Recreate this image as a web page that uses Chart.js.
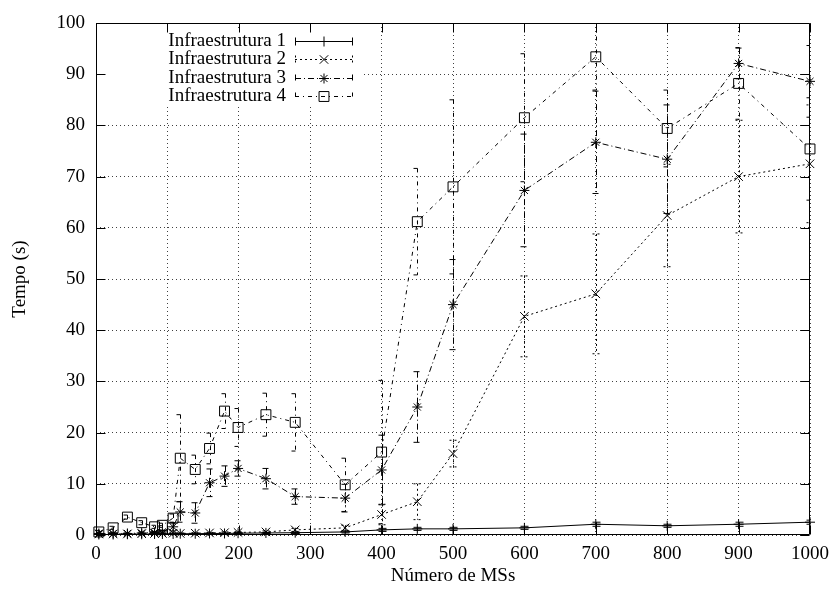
<!DOCTYPE html>
<html>
<head>
<meta charset="utf-8">
<title>Tempo x Número de MSs</title>
<script src="https://cdn.jsdelivr.net/npm/chart.js@4.4.1/dist/chart.umd.min.js"></script>
<style>
    html, body { margin: 0; padding: 0; background: #fff; }
    #wrap { width: 837px; height: 590px; }
</style>
</head>
<body>
<div id="wrap"><canvas id="tempoChart" width="837" height="590"></canvas></div>
<script>
// número de MSs (eixo x)
const msCount = [4, 24, 44, 64, 82, 93, 108, 118, 139, 159, 180, 199, 238, 279, 349, 400, 450, 500, 600, 700, 800, 900, 1000];

// tempo médio (s) e desvio de cada infraestrutura
const infra1 = [0.1, 0.1, 0.15, 0.15, 0.2, 0.2, 0.2, 0.25, 0.25, 0.3, 0.3, 0.35, 0.4, 0.45, 0.6, 1.0, 1.2, 1.2, 1.4, 2.1, 1.8, 2.1, 2.5];
const infra1Err = [0.05, 0.05, 0.05, 0.05, 0.05, 0.05, 0.05, 0.1, 0.1, 0.1, 0.1, 0.1, 0.1, 0.15, 0.2, 0.3, 0.3, 0.3, 0.3, 0.4, 0.3, 0.4, 0.4];

const infra2 = [0.2, 0.2, 0.2, 0.25, 0.3, 0.3, 0.35, 0.3, 0.35, 0.4, 0.45, 0.5, 0.6, 1.0, 1.4, 4.0, 6.5, 15.9, 42.7, 47.1, 62.4, 70.0, 72.5];
const infra2Err = [0.05, 0.05, 0.05, 0.05, 0.1, 0.1, 0.1, 0.1, 0.1, 0.1, 0.15, 0.15, 0.2, 0.3, 0.5, 2.0, 3.5, 2.6, 7.9, 11.7, 10.0, 11.0, 11.5];

const infra3 = [0.3, 0.3, 0.3, 0.4, 0.5, 0.6, 1.6, 4.5, 4.3, 10.2, 11.5, 13.0, 11.0, 7.5, 7.2, 12.7, 25.0, 45.0, 67.3, 76.7, 73.4, 92.1, 88.6];
const infra3Err = [0.1, 0.1, 0.1, 0.2, 0.2, 0.3, 0.8, 2.0, 2.0, 2.7, 2.0, 1.5, 2.0, 1.5, 2.7, 6.8, 6.9, 8.8, 11.0, 10.0, 10.6, 3.0, 7.0];

const infra4 = [0.6, 1.4, 3.5, 2.4, 1.6, 1.9, 3.3, 15.0, 12.8, 16.9, 24.2, 21.0, 23.5, 22.0, 9.8, 16.2, 61.2, 68.0, 81.5, 93.4, 79.4, 88.2, 75.4];
const infra4Err = [0.3, 0.3, 0.4, 0.4, 0.3, 0.4, 0.8, 8.5, 2.8, 3.0, 3.4, 3.7, 4.2, 5.6, 5.2, 14.0, 10.4, 17.0, 12.5, 6.5, 7.5, 7.0, 10.0];

const seriesNames = ["Infraestrutura 1", "Infraestrutura 2", "Infraestrutura 3", "Infraestrutura 4"];
const xTitle = "Número de MSs";
const yTitle = "Tempo (s)";

const FONT = "'Liberation Serif', 'Times New Roman', serif";

function toPoints(ys){
    return msCount.map((x, i) => ({ x: x, y: ys[i] }));
}

function makeSet(label, ys, errs, dash, style, radius){
    return {
        label: label,
        data: toPoints(ys),
        errors: errs,
        borderColor: "#000",
        borderWidth: 1,
        borderDash: dash,
        pointStyle: style,
        pointRadius: radius,
        pointBorderColor: "#000",
        pointBackgroundColor: "rgba(0,0,0,0)",
        pointBorderWidth: 1,
        tension: 0,
        fill: false,
        clip: false
    };
}

const datasets = [
    makeSet(seriesNames[0], infra1, infra1Err, [], "cross", 5),
    makeSet(seriesNames[1], infra2, infra2Err, [2, 3], "crossRot", 6),
    makeSet(seriesNames[2], infra3, infra3Err, [6, 3, 1, 3], "star", 5),
    makeSet(seriesNames[3], infra4, infra4Err, [4, 4, 1, 4], "rect", 7)
];

function markPoint(ctx, style, radius, x, y){
    ctx.save();
    ctx.setLineDash([]);
    ctx.fillStyle = "rgba(0,0,0,0)";
    ctx.strokeStyle = "#000";
    ctx.lineWidth = 1;
    Chart.helpers.drawPoint(ctx, { pointStyle: style, radius: radius, rotation: 0, borderWidth: 1 }, x, y);
    ctx.restore();
}

// barras de erro desenhadas pelas escalas do gráfico
const errorBars = {
    id: "errorBars",
    afterDatasetsDraw(chart){
        const ctx = chart.ctx, a = chart.chartArea;
        const xs = chart.scales.x, ys = chart.scales.y;
        ctx.save();
        ctx.beginPath();
        ctx.rect(a.left, a.top, a.right - a.left, a.bottom - a.top);
        ctx.clip();
        ctx.strokeStyle = "#000";
        ctx.lineWidth = 1;
        chart.data.datasets.forEach(ds => {
            ctx.setLineDash(ds.borderDash);
            ds.data.forEach((p, i) => {
                const e = ds.errors[i];
                if(!e) return;
                const px = Math.round(xs.getPixelForValue(p.x)) + 0.5;
                const top = ys.getPixelForValue(p.y + e);
                const bot = ys.getPixelForValue(p.y - e);
                ctx.beginPath();
                ctx.moveTo(px, top); ctx.lineTo(px, bot);
                ctx.moveTo(px - 4, top); ctx.lineTo(px + 4, top);
                ctx.moveTo(px - 4, bot); ctx.lineTo(px + 4, bot);
                ctx.stroke();
            });
        });
        ctx.restore();
    }
};

// moldura e marcas internas no estilo gnuplot
const frameTicks = {
    id: "frameTicks",
    afterDatasetsDraw(chart){
        const ctx = chart.ctx, a = chart.chartArea;
        const xs = chart.scales.x, ys = chart.scales.y;
        ctx.save();
        ctx.strokeStyle = "#000";
        ctx.lineWidth = 1;
        ctx.setLineDash([]);
        ctx.beginPath();
        const L = Math.round(a.left) + 0.5, R = Math.round(a.right) - 0.5;
        const T = Math.round(a.top) + 0.5, B = Math.round(a.bottom) - 0.5;
        ctx.rect(L, T, R - L, B - T);
        xs.ticks.forEach(t => {
            const px = Math.round(xs.getPixelForValue(t.value)) + 0.5;
            ctx.moveTo(px, B); ctx.lineTo(px, B - 9);
            ctx.moveTo(px, T); ctx.lineTo(px, T + 9);
        });
        ys.ticks.forEach(t => {
            const py = Math.round(ys.getPixelForValue(t.value)) + 0.5;
            ctx.moveTo(L, py); ctx.lineTo(L + 9, py);
            ctx.moveTo(R, py); ctx.lineTo(R - 9, py);
        });
        ctx.stroke();
        ctx.restore();
    }
};

// legenda: texto à esquerda, amostra de linha à direita
const keyBox = {
    id: "keyBox",
    beforeDatasetsDraw(chart){
        const ctx = chart.ctx, a = chart.chartArea;
        ctx.save();
        ctx.fillStyle = "#fff";
        ctx.fillRect(a.left + 10, a.top + 5, 256, 76);
        ctx.restore();
    },
    afterDraw(chart){
        const ctx = chart.ctx, a = chart.chartArea;
        const textRight = a.left + 190;
        const x0 = a.left + 199, x1 = a.left + 257;
        ctx.save();
        ctx.font = "19px " + FONT;
        ctx.fillStyle = "#000";
        ctx.textAlign = "right";
        ctx.textBaseline = "middle";
        chart.data.datasets.forEach((ds, i) => {
            const y = a.top + 18 + i * 18.3;
            ctx.fillText(ds.label, textRight, y);
            const py = Math.round(y) + 0.5;
            ctx.strokeStyle = "#000";
            ctx.lineWidth = 1;
            ctx.setLineDash(ds.borderDash);
            ctx.beginPath();
            ctx.moveTo(x0, py); ctx.lineTo(x1, py);
            ctx.moveTo(x0 + 0.5, py - 4); ctx.lineTo(x0 + 0.5, py + 4);
            ctx.moveTo(x1 - 0.5, py - 4); ctx.lineTo(x1 - 0.5, py + 4);
            ctx.stroke();
            markPoint(ctx, ds.pointStyle, ds.pointRadius, (x0 + x1) / 2, py);
        });
        ctx.restore();
    }
};

Chart.defaults.font.family = FONT;
Chart.defaults.font.size = 19;
Chart.defaults.color = "#000";

new Chart(document.getElementById("tempoChart").getContext("2d"), {
    type: "line",
    data: { datasets: datasets },
    options: {
        responsive: false,
        animation: false,
        layout: { padding: { left: 0, top: 23, right: 22, bottom: 0 } },
        plugins: { legend: { display: false }, tooltip: { enabled: false } },
        scales: {
            x: {
                type: "linear",
                min: 0, max: 1000,
                ticks: { stepSize: 100, padding: 8, maxRotation: 0, callback: v => String(v) },
                grid: { color: "rgba(0,0,0,0.75)", drawTicks: false },
                border: { display: false, dash: [1, 3] },
                title: { display: true, text: xTitle, padding: { top: 3, bottom: 3 } },
                afterFit(s){ s.height = 55; }
            },
            y: {
                min: 0, max: 100,
                ticks: { stepSize: 10, padding: 11, callback: v => String(v) },
                grid: { color: "rgba(0,0,0,0.75)", drawTicks: false },
                border: { display: false, dash: [1, 3] },
                title: { display: true, text: yTitle, padding: { top: 9, bottom: 0 } },
                afterFit(s){ s.width = 96; }
            }
        }
    },
    plugins: [keyBox, errorBars, frameTicks]
});
</script>
</body>
</html>
